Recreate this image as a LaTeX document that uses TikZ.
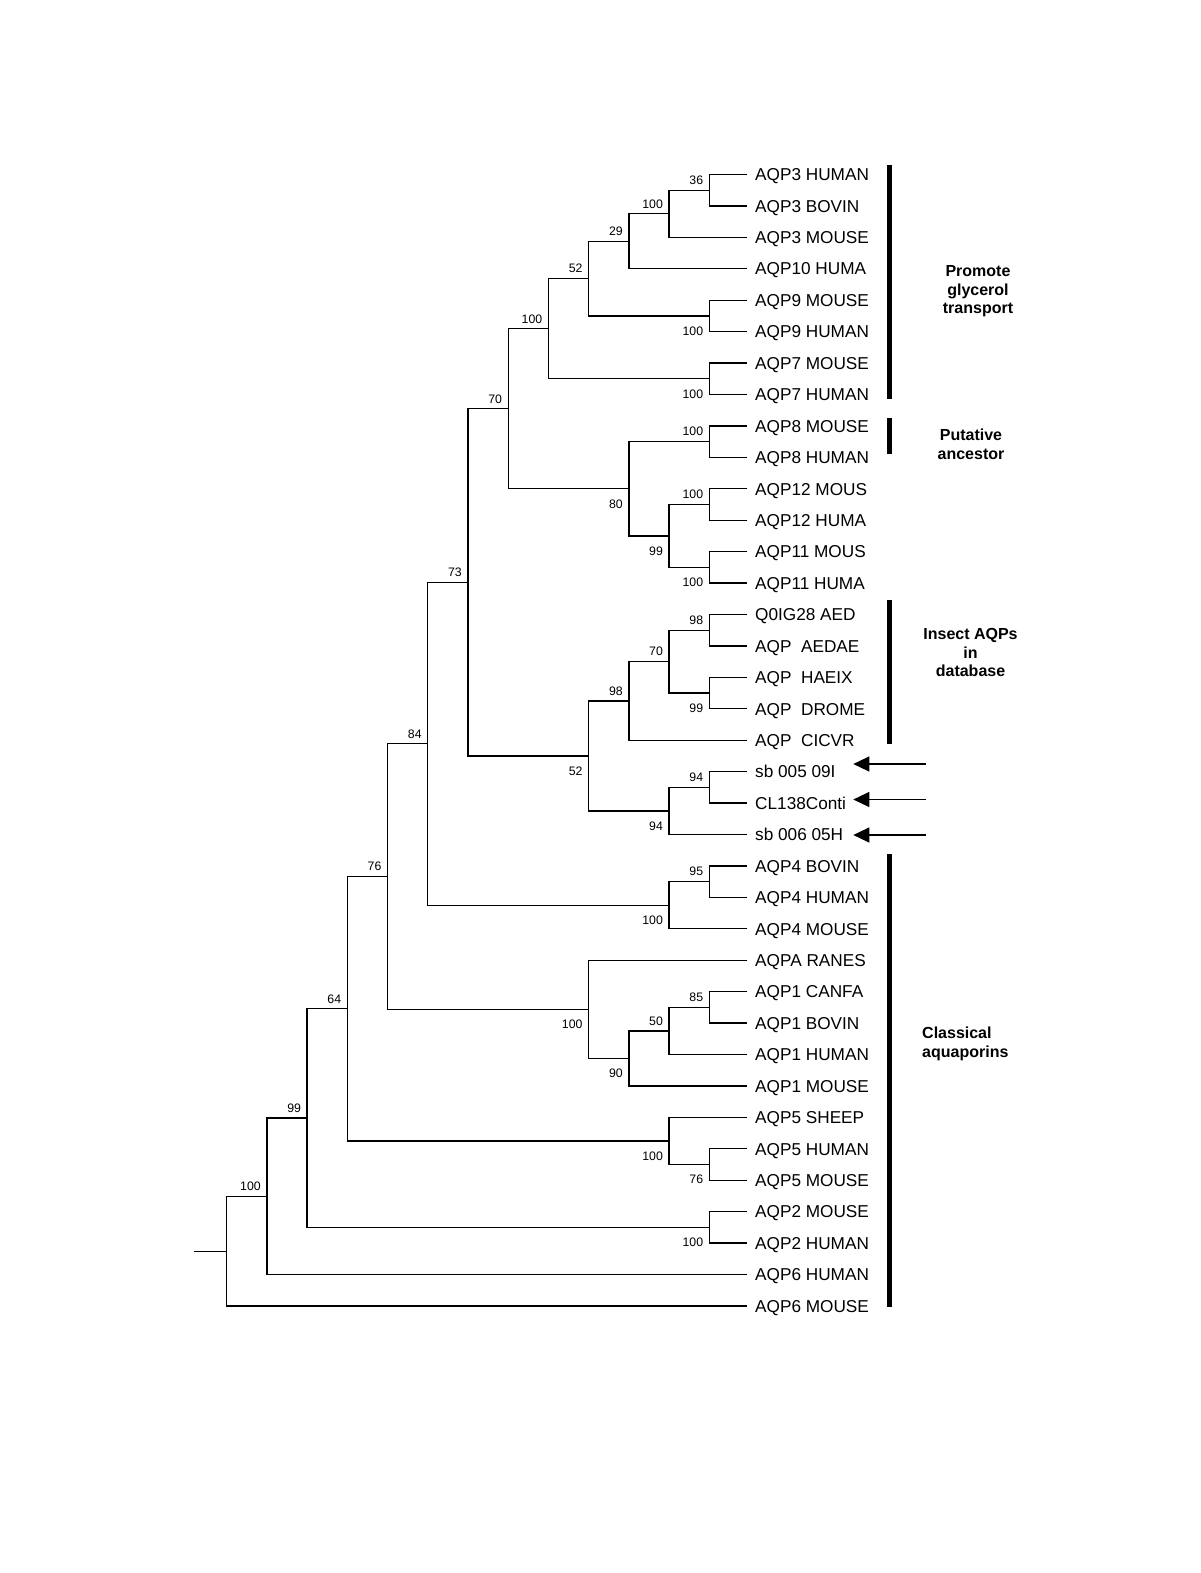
\documentclass[tikz,border=0pt]{standalone}
\usepackage{fontspec}
\setmainfont{Liberation Sans}
\usetikzlibrary{arrows.meta}
\begin{document}
\begin{tikzpicture}[x=1pt,y=1pt,
  declare function={yy(\i)=-(174.5+31.43*\i); xx(\k)=226.7+40.22*\k;},
  br/.style={line width=1.3pt},
  leaf/.style={anchor=west, inner xsep=8pt, inner ysep=0pt, text height=12.4pt, text depth=0pt, font=\fontsize{17.2}{18}\selectfont},
  bs/.style={anchor=east, inner sep=0pt, text height=8.6pt, text depth=0pt, font=\fontsize{12.3}{14}\selectfont},
  grp/.style={anchor=base, inner sep=0pt, font=\fontsize{16}{19}\selectfont\bfseries},
  grpl/.style={grp, anchor=base west},
  bar/.style={line width=4.6pt},
  arr/.style={line width=1.3pt, -{Triangle[length=16pt,width=15pt]}},
  up/.style={shift={(-6,10)}},
  dn/.style={shift={(-6,-15)}}
]
\fill[white] (0,0) rectangle (1200,-1573);
\useasboundingbox (0,0) rectangle (1200,-1573);

% leaves
\foreach \i/\t in {0/AQP3 HUMAN,1/AQP3 BOVIN,2/AQP3 MOUSE,3/AQP10 HUMA,4/AQP9 MOUSE,5/AQP9 HUMAN,6/AQP7 MOUSE,7/AQP7 HUMAN,8/AQP8 MOUSE,9/AQP8 HUMAN,10/AQP12 MOUS,11/AQP12 HUMA,12/AQP11 MOUS,13/AQP11 HUMA,14/Q0IG28 AED,15/AQP~~AEDAE,16/AQP~~HAEIX,17/AQP~~DROME,18/AQP~~CICVR,19/sb 005 09I,20/CL138Conti,21/sb 006 05H,22/AQP4 BOVIN,23/AQP4 HUMAN,24/AQP4 MOUSE,25/AQPA RANES,26/AQP1 CANFA,27/AQP1 BOVIN,28/AQP1 HUMAN,29/AQP1 MOUSE,30/AQP5 SHEEP,31/AQP5 HUMAN,32/AQP5 MOUSE,33/AQP2 MOUSE,34/AQP2 HUMAN,35/AQP6 HUMAN,36/AQP6 MOUSE}
  \node[leaf] (L\i) at (747,{yy(\i)}) {\t};

% internal nodes
\coordinate (n36) at ({xx(12)},{yy(0.5)});
\coordinate (n100a) at ({xx(11)},{yy(1.25)});
\coordinate (n29) at ({xx(10)},{yy(2.125)});
\coordinate (n100b) at ({xx(12)},{yy(4.5)});
\coordinate (n52) at ({xx(9)},{yy(3.3125)});
\coordinate (n100c) at ({xx(12)},{yy(6.5)});
\coordinate (n100d) at ({xx(8)},{yy(4.90625)});
\coordinate (n100e) at ({xx(12)},{yy(8.5)});
\coordinate (n100f) at ({xx(12)},{yy(10.5)});
\coordinate (n100g) at ({xx(12)},{yy(12.5)});
\coordinate (n99) at ({xx(11)},{yy(11.5)});
\coordinate (n80) at ({xx(10)},{yy(10)});
\coordinate (n70) at ({xx(7)},{yy(7.453125)});
\coordinate (n98a) at ({xx(12)},{yy(14.5)});
\coordinate (n99b) at ({xx(12)},{yy(16.5)});
\coordinate (n70b) at ({xx(11)},{yy(15.5)});
\coordinate (n98b) at ({xx(10)},{yy(16.75)});
\coordinate (n94a) at ({xx(12)},{yy(19.5)});
\coordinate (n94b) at ({xx(11)},{yy(20.25)});
\coordinate (n52b) at ({xx(9)},{yy(18.5)});
\coordinate (n73) at ({xx(6)},{yy(12.9765625)});
\coordinate (n95) at ({xx(12)},{yy(22.5)});
\coordinate (n100h) at ({xx(11)},{yy(23.25)});
\coordinate (n84) at ({xx(5)},{yy(18.11328)});
\coordinate (n85) at ({xx(12)},{yy(26.5)});
\coordinate (n50) at ({xx(11)},{yy(27.25)});
\coordinate (n90) at ({xx(10)},{yy(28.125)});
\coordinate (n100i) at ({xx(9)},{yy(26.5625)});
\coordinate (n76) at ({xx(4)},{yy(22.33789)});
\coordinate (n76b) at ({xx(12)},{yy(31.5)});
\coordinate (n100j) at ({xx(11)},{yy(30.75)});
\coordinate (n64) at ({xx(3)},{yy(26.54395)});
\coordinate (n100k) at ({xx(12)},{yy(33.5)});
\coordinate (n99c) at ({xx(2)},{yy(30.02197)});
\coordinate (n100l) at ({xx(1)},{yy(32.51099)});
\coordinate (root) at ({xx(0)},{yy(34.2555)});
\coordinate (stub) at (194,{yy(34.2555)});

% branches
\draw[br] (n36) |- (L0.west) (n36) |- (L1.west);
\draw[br] (n100a) |- (n36) (n100a) |- (L2.west);
\draw[br] (n29) |- (n100a) (n29) |- (L3.west);
\draw[br] (n100b) |- (L4.west) (n100b) |- (L5.west);
\draw[br] (n52) |- (n29) (n52) |- (n100b);
\draw[br] (n100c) |- (L6.west) (n100c) |- (L7.west);
\draw[br] (n100d) |- (n52) (n100d) |- (n100c);
\draw[br] (n100e) |- (L8.west) (n100e) |- (L9.west);
\draw[br] (n100f) |- (L10.west) (n100f) |- (L11.west);
\draw[br] (n100g) |- (L12.west) (n100g) |- (L13.west);
\draw[br] (n99) |- (n100f) (n99) |- (n100g);
\draw[br] (n80) |- (n100e) (n80) |- (n99);
\draw[br] (n70) |- (n100d) (n70) |- (n80);
\draw[br] (n98a) |- (L14.west) (n98a) |- (L15.west);
\draw[br] (n99b) |- (L16.west) (n99b) |- (L17.west);
\draw[br] (n70b) |- (n98a) (n70b) |- (n99b);
\draw[br] (n98b) |- (n70b) (n98b) |- (L18.west);
\draw[br] (n94a) |- (L19.west) (n94a) |- (L20.west);
\draw[br] (n94b) |- (n94a) (n94b) |- (L21.west);
\draw[br] (n52b) |- (n98b) (n52b) |- (n94b);
\draw[br] (n73) |- (n70) (n73) |- (n52b);
\draw[br] (n95) |- (L22.west) (n95) |- (L23.west);
\draw[br] (n100h) |- (n95) (n100h) |- (L24.west);
\draw[br] (n84) |- (n73) (n84) |- (n100h);
\draw[br] (n85) |- (L26.west) (n85) |- (L27.west);
\draw[br] (n50) |- (n85) (n50) |- (L28.west);
\draw[br] (n90) |- (n50) (n90) |- (L29.west);
\draw[br] (n100i) |- (L25.west) (n100i) |- (n90);
\draw[br] (n76) |- (n84) (n76) |- (n100i);
\draw[br] (n76b) |- (L31.west) (n76b) |- (L32.west);
\draw[br] (n100j) |- (L30.west) (n100j) |- (n76b);
\draw[br] (n64) |- (n76) (n64) |- (n100j);
\draw[br] (n100k) |- (L33.west) (n100k) |- (L34.west);
\draw[br] (n99c) |- (n64) (n99c) |- (n100k);
\draw[br] (n100l) |- (n99c) (n100l) |- (L35.west);
\draw[br] (root) |- (n100l) (root) |- (L36.west);
\draw[br] (stub) -- (root);

% bootstrap values
\node[bs] (b36) at ([up]n36) {36};
\node[bs] (b100a) at ([up]n100a) {100};
\node[bs] (b29) at ([up]n29) {29};
\node[bs] (b52) at ([up]n52) {52};
\node[bs] (b100b) at ([dn]n100b) {100};
\node[bs] (b100d) at ([up]n100d) {100};
\node[bs] (b100c) at ([dn]n100c) {100};
\node[bs] (b70) at ([up]n70) {70};
\node[bs] (b100e) at ([up]n100e) {100};
\node[bs] (b80) at ([dn]n80) {80};
\node[bs] (b100f) at ([up]n100f) {100};
\node[bs] (b99) at ([dn]n99) {99};
\node[bs] (b100g) at ([dn]n100g) {100};
\node[bs] (b73) at ([up]n73) {73};
\node[bs] (b98a) at ([up]n98a) {98};
\node[bs] (b70b) at ([up]n70b) {70};
\node[bs] (b99b) at ([dn]n99b) {99};
\node[bs] (b98b) at ([up]n98b) {98};
\node[bs] (b52b) at ([dn]n52b) {52};
\node[bs] (b94a) at ([up]n94a) {94};
\node[bs] (b94b) at ([dn]n94b) {94};
\node[bs] (b84) at ([up]n84) {84};
\node[bs] (b95) at ([up]n95) {95};
\node[bs] (b100h) at ([dn]n100h) {100};
\node[bs] (b76) at ([up]n76) {76};
\node[bs] (b100i) at ([dn]n100i) {100};
\node[bs] (b85) at ([up]n85) {85};
\node[bs] (b50) at ([up]n50) {50};
\node[bs] (b90) at ([dn]n90) {90};
\node[bs] (b100j) at ([dn]n100j) {100};
\node[bs] (b76b) at ([dn]n76b) {76};
\node[bs] (b64) at ([up]n64) {64};
\node[bs] (b100k) at ([dn]n100k) {100};
\node[bs] (b99c) at ([up]n99c) {99};
\node[bs] (b100l) at ([up]n100l) {100};

% group bars
\coordinate (g1t) at (889.3,-165); \coordinate (g1b) at (889.3,-399.3);
\coordinate (g2t) at (889.3,-418); \coordinate (g2b) at (889.3,-454);
\coordinate (g3t) at (889.3,-600); \coordinate (g3b) at (889.3,-744);
\coordinate (g4t) at (889.3,-854); \coordinate (g4b) at (889.3,-1306.7);
\draw[bar] (g1t) -- (g1b);
\draw[bar] (g2t) -- (g2b);
\draw[bar] (g3t) -- (g3b);
\draw[bar] (g4t) -- (g4b);

% group labels
\node[grp] (t1a) at (978,-276.7) {Promote};
\node[grp] (t1b) at (978,-295.2) {glycerol};
\node[grp] (t1c) at (978,-313.7) {transport};
\node[grp] (t2a) at (971,-440) {Putative};
\node[grp] (t2b) at (971,-459) {ancestor};
\node[grp] (t3a) at (970.5,-639.5) {Insect AQPs};
\node[grp] (t3b) at (970.5,-658.2) {in};
\node[grp] (t3c) at (970.5,-676.9) {database};
\node[grpl] (t4a) at (922,-1038.5) {Classical};
\node[grpl] (t4b) at (922,-1057.5) {aquaporins};

% arrows
\coordinate (a1s) at (926,-764); \coordinate (a1e) at (853.3,-764);
\coordinate (a2s) at (926,-799.5); \coordinate (a2e) at (853.3,-799.5);
\coordinate (a3s) at (926,-835); \coordinate (a3e) at (853.3,-835);
\draw[arr] (a1s) -- (a1e);
\draw[arr] (a2s) -- (a2e);
\draw[arr] (a3s) -- (a3e);
\end{tikzpicture}
\end{document}
